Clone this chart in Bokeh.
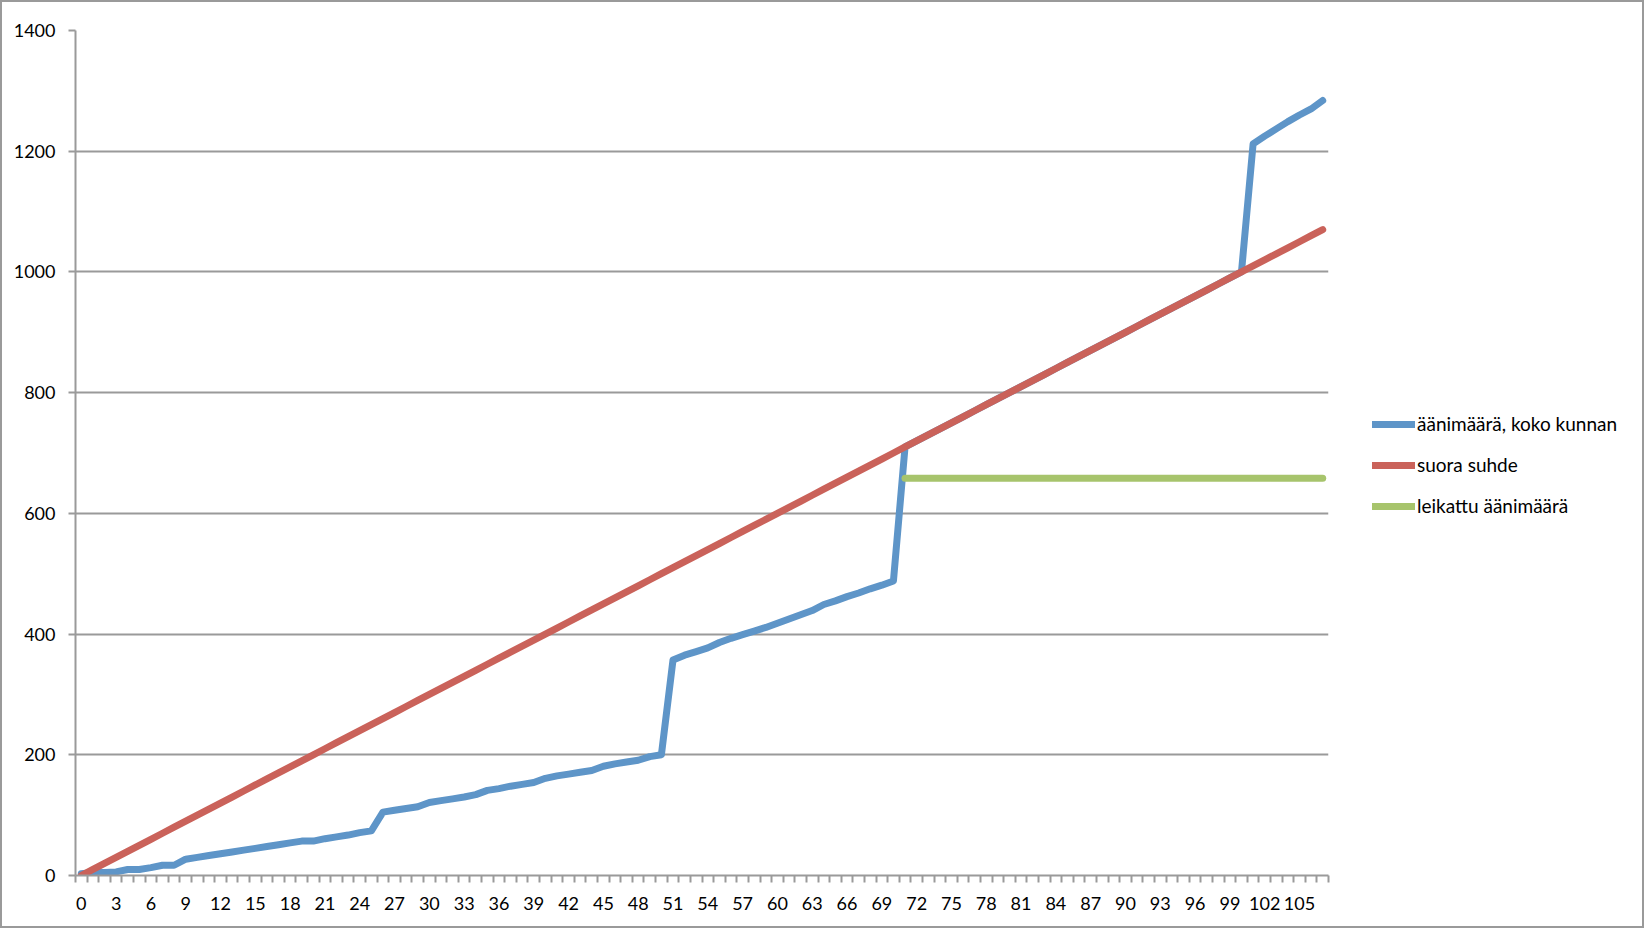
from bokeh.plotting import figure
from bokeh.models import Range1d, FixedTicker, Legend, LegendItem
from bokeh.layouts import row
from bokeh.embed import file_html
from bokeh.resources import INLINE
import numpy as np

# ---- data ----
categories = list(range(108))

aanimaara_koko_kunnan = [
    3, 5, 5, 6, 10, 10, 13, 17, 17, 27,
    30, 33, 36, 39, 42, 45, 48, 51, 54, 57,
    57, 61, 64, 67, 71, 74, 105, 108, 111, 114,
    121, 124, 127, 130, 134, 141, 144, 148, 151, 154,
    161, 165, 168, 171, 174, 181, 185, 188, 191, 197,
    200, 357, 365, 371, 377, 386, 393, 399, 405, 411,
    418, 425, 432, 439, 449, 455, 462, 468, 475, 481,
    488, 710, 720, 730, 740, 750, 760, 770, 780, 790,
    800, 810, 820, 830, 840, 850, 860, 870, 880, 890,
    900, 910, 920, 930, 940, 950, 960, 970, 980, 990,
    1000, 1212, 1225, 1237, 1249, 1260, 1270, 1284,
]

suora_suhde = [
    0, 10, 20, 30, 40, 50, 60, 70, 80, 90,
    100, 110, 120, 130, 140, 150, 160, 170, 180, 190,
    200, 210, 220, 230, 240, 250, 260, 270, 280, 290,
    300, 310, 320, 330, 340, 350, 360, 370, 380, 390,
    400, 410, 420, 430, 440, 450, 460, 470, 480, 490,
    500, 510, 520, 530, 540, 550, 560, 570, 580, 590,
    600, 610, 620, 630, 640, 650, 660, 670, 680, 690,
    700, 710, 720, 730, 740, 750, 760, 770, 780, 790,
    800, 810, 820, 830, 840, 850, 860, 870, 880, 890,
    900, 910, 920, 930, 940, 950, 960, 970, 980, 990,
    1000, 1010, 1020, 1030, 1040, 1050, 1060, 1070,
]

N = None
leikattu_aanimaara = [
    N, N, N, N, N, N, N, N, N, N,
    N, N, N, N, N, N, N, N, N, N,
    N, N, N, N, N, N, N, N, N, N,
    N, N, N, N, N, N, N, N, N, N,
    N, N, N, N, N, N, N, N, N, N,
    N, N, N, N, N, N, N, N, N, N,
    N, N, N, N, N, N, N, N, N, N,
    N, 658, 658, 658, 658, 658, 658, 658, 658, 658,
    658, 658, 658, 658, 658, 658, 658, 658, 658, 658,
    658, 658, 658, 658, 658, 658, 658, 658, 658, 658,
    658, 658, 658, 658, 658, 658, 658, 658,
]

y_ticks = [0, 200, 400, 600, 800, 1000, 1200, 1400]
x_label_ticks = [0, 3, 6, 9, 12, 15, 18, 21, 24, 27, 30, 33, 36, 39, 42, 45,
                 48, 51, 54, 57, 60, 63, 66, 69, 72, 75, 78, 81, 84, 87, 90,
                 93, 96, 99, 102, 105]

series_names = ["äänimäärä, koko kunnan", "suora suhde", "leikattu äänimäärä"]
series_colors = ["#5E95C8", "#CA625A", "#A7C46C"]

# ---- figure ----
FONT = "Lato"
GRID = "#9a9a9a"
H = 924

p1 = figure(width=1338, height=H, output_backend="svg", toolbar_location=None,
            x_range=Range1d(-0.5, len(categories) - 0.5), y_range=Range1d(0, 1400),
            min_border_left=73, min_border_right=12, min_border_top=28,
            min_border_bottom=51)
p1.outline_line_color = None
p1.background_fill_color = "white"
p1.border_fill_color = "white"

p1.xgrid.grid_line_color = None
p1.ygrid.grid_line_color = GRID
p1.ygrid.grid_line_width = 2
p1.ygrid.ticker = FixedTicker(ticks=y_ticks)

# y axis
yax = p1.yaxis[0]
yax.ticker = FixedTicker(ticks=y_ticks)
yax.axis_line_color = GRID
yax.axis_line_width = 2
yax.major_tick_line_color = GRID
yax.major_tick_line_width = 2
yax.major_tick_out = 7
yax.major_tick_in = 0
yax.minor_tick_line_color = None
yax.major_label_standoff = 13
yax.major_label_text_font = FONT
yax.major_label_text_font_size = "18px"
yax.major_label_text_color = "black"

# x axis: labels at category centers, tick marks at category boundaries
bounds = [c - 0.5 for c in categories] + [categories[-1] + 0.5]
xax = p1.xaxis[0]
xax.ticker = FixedTicker(ticks=x_label_ticks, minor_ticks=bounds)
xax.axis_line_color = GRID
xax.axis_line_width = 2
xax.major_tick_out = 7
xax.major_tick_in = 0
xax.major_tick_line_alpha = 0
xax.minor_tick_line_color = GRID
xax.minor_tick_line_width = 2
xax.minor_tick_out = 7
xax.minor_tick_in = 0
xax.major_label_standoff = 14
xax.major_label_text_font = FONT
xax.major_label_text_font_size = "18px"
xax.major_label_text_color = "black"

def arr(vals):
    return np.array([np.nan if v is None else v for v in vals], dtype=float)

line_style = dict(line_width=7, line_cap="round", line_join="round")
for vals, col in zip([aanimaara_koko_kunnan, suora_suhde, leikattu_aanimaara], series_colors):
    p1.line(categories, arr(vals), line_color=col, **line_style)

# ---- legend panel (separate canvas to the right of the plot) ----
p2 = figure(width=302, height=H, output_backend="svg", toolbar_location=None,
            x_axis_location=None, y_axis_location=None,
            x_range=Range1d(0, 1), y_range=Range1d(0, 1),
            min_border_left=0, min_border_right=0, min_border_top=0,
            min_border_bottom=0)
p2.grid.visible = False
p2.outline_line_color = None
p2.background_fill_color = "white"
p2.border_fill_color = "white"

legend_renderers = [p2.line(x=[np.nan, np.nan], y=[np.nan, np.nan],
                            line_color=col, **line_style)
                    for col in series_colors]
legend = Legend(
    items=[LegendItem(label=n, renderers=[r]) for n, r in zip(series_names, legend_renderers)],
    location=(32, 358), glyph_width=43, glyph_height=22, spacing=18,
    padding=0, margin=0, label_standoff=2, border_line_color=None,
    background_fill_alpha=0, label_text_font=FONT, label_text_font_size="19px",
    label_text_color="black", label_height=22,
)
p2.add_layout(legend)

p = row(p1, p2, spacing=0, styles={"border": "2px solid #9a9a9a"})

open("out.html", "w").write(file_html(p, INLINE))
